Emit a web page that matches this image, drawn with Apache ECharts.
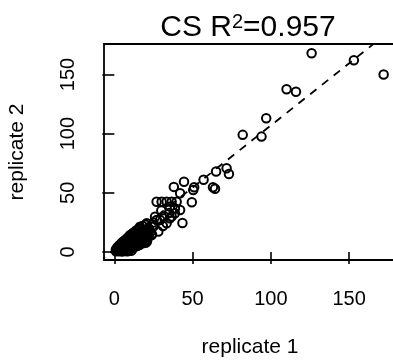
<!DOCTYPE html>
<html>
<head>
<meta charset="utf-8">
<script src="https://cdn.jsdelivr.net/npm/echarts@6/dist/echarts.min.js"></script>
<style>
  html, body { margin: 0; padding: 0; background: #fff; }
  #main { width: 393px; height: 360px; }
</style>
</head>
<body>
<div id="main"></div>
<script>
// replicate 1 / replicate 2 values
// dense cluster near the origin
var clusterRep1 = [
  1, 3, 5, 8,
  1.5, 2.5, 4, 6, 9, 11,
  1, 2, 3.5, 5, 7, 10,
  2, 3, 4.5, 6, 8, 12,
  2, 4, 5.5, 7.5, 10, 13,
  3, 5, 6.5, 9, 11.5, 14.5,
  3.5, 6, 8, 10, 13, 16,
  4.5, 7, 9, 12, 15, 18,
  5, 7.5, 10, 13, 17, 20,
  6, 9, 11.5, 14, 19,
  7, 10, 12.5, 16, 21,
  8, 11, 14, 18,
  8.5, 12, 15, 19.5,
  9.5, 13, 17, 22,
  10, 14, 18,
  11, 15.5, 20, 24,
  12, 17, 21,
  13, 18, 23,
  14, 19.5,
  15, 21,
  16, 22,
  18,
  20
];
var clusterRep2 = [
  0.5, 0.7, 0.4, 0.6,
  1.1, 0.9, 1.2, 1, 0.8, 1.1,
  2.2, 1.8, 2, 2.3, 1.9, 2.1,
  3.1, 2.8, 3.2, 3, 2.9, 3.3,
  4, 4.2, 3.8, 4.1, 3.9, 4.3,
  5.2, 4.8, 5, 5.3, 4.9, 5.1,
  6, 6.2, 5.8, 6.1, 6.3, 5.9,
  7.1, 6.9, 7.2, 7, 6.8, 7.3,
  8, 8.2, 7.9, 8.1, 8.3, 7.8,
  9.1, 8.9, 9.2, 9, 8.8,
  10.2, 9.8, 10, 10.1, 9.9,
  11, 11.2, 10.9, 11.1,
  12.1, 11.9, 12.2, 12,
  13, 13.2, 12.8, 13.1,
  14.1, 13.9, 14,
  15, 15.2, 14.8, 15.1,
  16.1, 15.9, 16,
  17, 17.2, 16.9,
  18.1, 17.9,
  19, 19.2,
  20.1, 19.9,
  22,
  23
];
// scattered points further out
var outerRep1 = [126, 153, 172, 110, 116, 97, 82, 94, 71.7, 73.2, 65, 57,
  44.5, 51, 63, 64.3, 50.4, 38, 42, 49.5, 27, 30.2, 33.4, 36.6, 39.8,
  42, 38.7, 38.7, 43.5, 35.5, 26, 29.2, 33.4, 27, 36.6, 24.9, 20.7, 16.4,
  28.1, 20.7, 23.9, 20.7, 22, 18, 25, 31, 35, 30, 32, 35.5];
var outerRep2 = [168, 162, 150, 137.5, 135.5, 113, 99, 97.5, 70.7, 65.9, 68, 61,
  59.4, 54.7, 54.7, 53.5, 52.4, 55, 49.6, 42, 42.5, 42.5, 42.5, 42.5, 42.5,
  35.5, 36.9, 32.7, 24.5, 28.5, 29.8, 27, 24.3, 27, 30, 21.4, 24.3, 21.4,
  17.2, 12.9, 14.4, 8.7, 19, 18, 25, 22, 33, 35, 30, 38.3];

var xTicks = [0, 50, 100, 150];
var yTicks = [0, 50, 100, 150];

// dashed fit line
var fitIntercept = 2;
var fitSlope = 1.05;
var fitRange = [-10, 200];

var titleText = '{a|CS R}{b|2}{a|=0.957}';
var xName = 'replicate 1';
var yName = 'replicate 2';

var points = [];
clusterRep1.forEach(function(v, i){ points.push([v, clusterRep2[i]]); });
outerRep1.forEach(function(v, i){ points.push([v, outerRep2[i]]); });

var fitData = fitRange.map(function(x){ return [x, fitIntercept + fitSlope * x]; });

var font = "'Liberation Sans', Arial, sans-serif";

var chart = echarts.init(document.getElementById('main'));
chart.setOption({
  animation: false,
  backgroundColor: '#fff',
  textStyle: { fontFamily: font, color: '#000' },
  grid: {
    left: 104, top: 44, width: 292, height: 216,
    outerBoundsMode: 'none',
    show: true, borderColor: '#000', borderWidth: 1.8, backgroundColor: 'transparent'
  },
  xAxis: {
    type: 'value', min: -6.6, max: 179.9,
    axisLine: { show: false },
    splitLine: { show: false },
    axisTick: { show: true, inside: false, length: 12, customValues: xTicks,
      lineStyle: { color: '#000', width: 1.6 } },
    axisLabel: { customValues: xTicks, margin: 29, fontSize: 20, color: '#000', fontFamily: font },
    name: xName, nameLocation: 'middle', nameGap: 77,
    nameTextStyle: { fontSize: 21, color: '#000', fontFamily: font }
  },
  yAxis: {
    type: 'value', min: -6.8, max: 175.8,
    axisLine: { show: false },
    splitLine: { show: false },
    axisTick: { show: true, inside: false, length: 12, customValues: yTicks,
      lineStyle: { color: '#000', width: 1.6 } },
    axisLabel: { customValues: yTicks, rotate: 90, margin: 26, fontSize: 20, color: '#000', fontFamily: font },
    name: yName, nameLocation: 'middle', nameGap: 76,
    nameTextStyle: { fontSize: 21, color: '#000', fontFamily: font }
  },
  graphic: [{
    type: 'text',
    x: 248, y: 28,
    style: {
      text: titleText,
      align: 'center', verticalAlign: 'middle',
      fill: '#000',
      rich: {
        a: { fontSize: 30, fontFamily: font, fill: '#000', lineHeight: 32 },
        b: { fontSize: 20, fontFamily: font, fill: '#000', verticalAlign: 'top', lineHeight: 14 }
      }
    }
  }],
  series: [{
    type: 'scatter',
    data: points,
    symbol: 'circle',
    symbolSize: 8.5,
    itemStyle: { color: 'rgba(0,0,0,0)', borderColor: '#000', borderWidth: 2, opacity: 1 },
    emphasis: { disabled: true }
  }, {
    type: 'line',
    data: fitData,
    showSymbol: false,
    clip: true,
    lineStyle: { color: '#000', width: 1.8, type: [8, 7] }
  }]
});
</script>
</body>
</html>
